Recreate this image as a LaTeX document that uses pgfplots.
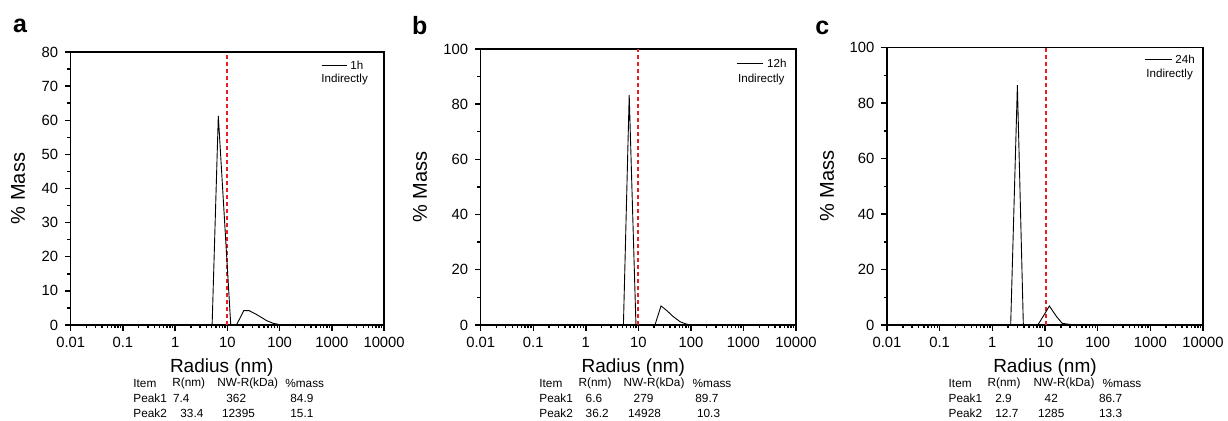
\documentclass[border=0pt]{standalone}
\usepackage{pgfplots}
\pgfplotsset{compat=1.18}
\usepackage{fontspec}
\setmainfont{Liberation Sans}

\pgfkeys{/pgf/number format/assume math mode=true}
\definecolor{cutred}{RGB}{235,30,30}
\pgfplotsset{
  every axis/.append style={
    scale only axis,
    anchor=south west,
    xmin=0.01, xmax=10000,
    xtick={0.01,0.1,1,10,100,1000,10000},
    xticklabels={0.01,0.1,1,10,100,1000,10000},
    minor xtick={0.02,0.03,0.04,0.05,0.06,0.07,0.08,0.09,
                 0.2,0.3,0.4,0.5,0.6,0.7,0.8,0.9,
                 2,3,4,5,6,7,8,9,
                 20,30,40,50,60,70,80,90,
                 200,300,400,500,600,700,800,900,
                 2000,3000,4000,5000,6000,7000,8000,9000},
    ymin=0,
    axis line style={line width=0.65pt},
    tick label style={font=\fontsize{7.4}{8}\selectfont},
    xlabel style={font=\fontsize{9.5}{11}\selectfont},
    ylabel style={font=\fontsize{10}{11}\selectfont},
    xlabel={Radius (nm)}, ylabel={\% Mass},
    clip=false,
  },
  every tick/.append style={black, line width=0.7pt},
}
\tikzset{
  dlscurve/.style={black, line width=0.45pt},
  dlscut/.style={draw=cutred, line width=0.9pt, dash pattern=on 2.2pt off 1.3pt},
}
\newcommand{\tabfont}{\fontsize{5.9}{7}\selectfont}
\newcommand{\legfont}{\fontsize{5.8}{7}\selectfont}

\begin{document}
\begin{tikzpicture}
\useasboundingbox (0,0) rectangle (614pt,210.5pt);

% panel a
\begin{axis}[xmode=log, at={(35.35pt,48pt)}, width=156.7pt, height=136.5pt,
  tick align=outside, xtick pos=bottom, ytick pos=left,
  major tick length=2.8pt, minor tick length=1.7pt,
  ymax=80, ytick={0,10,...,80}, minor ytick={5,15,...,75},
  xlabel style={at={(axis description cs:0.482,-0.157)}, anchor=center},
  ylabel style={at={(axis description cs:-0.168,0.5)}, anchor=center}]
  \addplot[dlscut, no marks] coordinates {(10,0) (10,80)};
  \addplot[dlscurve, no marks] coordinates {(0.01,0) (5.1,0) (6.7,61.3) (11.6,0) (14.9,0)
    (20.6,4.2) (26,4.2) (34,3.3) (45,2.2) (56,1.3) (75,0.5) (100,0.1) (10000,0)};
\end{axis}

% panel b
\begin{axis}[xmode=log, at={(240.35pt,48pt)}, width=157.65pt, height=138pt,
  tick align=outside, xtick pos=bottom, ytick pos=left,
  major tick length=2.8pt, minor tick length=1.7pt,
  ymax=100, ytick={0,20,...,100}, minor ytick={10,30,...,90},
  xlabel style={at={(axis description cs:0.484,-0.156)}, anchor=center},
  ylabel style={at={(axis description cs:-0.1925,0.5)}, anchor=center}]
  \addplot[dlscut, no marks] coordinates {(10,0) (10,100)};
  \addplot[dlscurve, no marks] coordinates {(0.01,0) (5.2,0) (6.7,83.3) (9.0,0) (20.7,0)
    (27,6.9) (35,5.2) (45,3.2) (62,1.2) (80,0.4) (100,0) (10000,0)};
\end{axis}

% panel c
\begin{axis}[xmode=log, at={(443.5pt,48pt)}, width=158pt, height=138.65pt,
  tick align=outside, xtick pos=bottom, ytick pos=left,
  major tick length=2.8pt, minor tick length=1.7pt,
  ymax=100, ytick={0,20,...,100}, minor ytick={10,30,...,90},
  xlabel style={at={(axis description cs:0.5,-0.155)}, anchor=center},
  ylabel style={at={(axis description cs:-0.19,0.5)}, anchor=center}]
  \addplot[dlscut, no marks] coordinates {(10.3,0) (10.3,100)};
  \addplot[dlscurve, no marks] coordinates {(0.01,0) (2.23,0) (2.99,86.5) (3.88,0) (7.3,0)
    (9.5,3.5) (12.1,6.85) (16.6,3.0) (21.2,0.6) (30,0.2) (53,0) (10000,0)};
\end{axis}

% panel letters
\node[anchor=base west, inner sep=0, font=\fontsize{12.5}{14}\selectfont\bfseries] at (6.35pt,194pt) {a};
\node[anchor=base west, inner sep=0, font=\fontsize{12.5}{14}\selectfont\bfseries] at (205.85pt,193pt) {b};
\node[anchor=base west, inner sep=0, font=\fontsize{12.5}{14}\selectfont\bfseries] at (407.5pt,193pt) {c};

% legends
\draw[line width=0.45pt] (160.85pt,178pt) -- (173.35pt,178pt);
\node[anchor=west, inner sep=0, font=\legfont] at (175pt,178pt) {1h};
\node[anchor=west, inner sep=0, font=\legfont] at (160.5pt,170.5pt) {Indirectly};
\draw[line width=0.45pt] (368.65pt,178.85pt) -- (381.65pt,178.85pt);
\node[anchor=west, inner sep=0, font=\legfont] at (383.35pt,178.85pt) {12h};
\node[anchor=west, inner sep=0, font=\legfont] at (368.85pt,170.85pt) {Indirectly};
\draw[line width=0.45pt] (572.5pt,180.85pt) -- (585.85pt,180.85pt);
\node[anchor=west, inner sep=0, font=\legfont] at (587.5pt,180.85pt) {24h};
\node[anchor=west, inner sep=0, font=\legfont] at (573pt,173pt) {Indirectly};

% peak tables
\begin{scope}[every node/.style={anchor=west, inner sep=0, font=\tabfont}]
  \node at (66.5pt,18.85pt) {Item};   \node at (86pt,18.85pt) {R(nm)};
  \node at (108.5pt,18.85pt) {NW-R(kDa)}; \node at (142.5pt,18.85pt) {\%mass};
  \node at (66.5pt,11.35pt) {Peak1};  \node at (86.35pt,11.35pt) {7.4};
  \node at (113pt,11.35pt) {362};     \node at (145pt,11.35pt) {84.9};
  \node at (66.5pt,3.85pt) {Peak2};   \node at (90pt,3.85pt) {33.4};
  \node at (110.85pt,3.85pt) {12395}; \node at (145pt,3.85pt) {15.1};

  \node at (269.5pt,18.85pt) {Item};   \node at (289.15pt,18.85pt) {R(nm)};
  \node at (311.65pt,18.85pt) {NW-R(kDa)}; \node at (346.15pt,18.85pt) {\%mass};
  \node at (269.5pt,11.35pt) {Peak1};  \node at (292.65pt,11.35pt) {6.6};
  \node at (316.65pt,11.35pt) {279};   \node at (347.5pt,11.35pt) {89.7};
  \node at (269.5pt,3.85pt) {Peak2};   \node at (292.65pt,3.85pt) {36.2};
  \node at (313.85pt,3.85pt) {14928};  \node at (348.35pt,3.85pt) {10.3};

  \node at (474.15pt,18.85pt) {Item};   \node at (493.65pt,18.85pt) {R(nm)};
  \node at (516.65pt,18.85pt) {NW-R(kDa)}; \node at (551.15pt,18.85pt) {\%mass};
  \node at (474.15pt,11.35pt) {Peak1};  \node at (497.5pt,11.35pt) {2.9};
  \node at (522.15pt,11.35pt) {42};     \node at (549.35pt,11.35pt) {86.7};
  \node at (474.15pt,3.85pt) {Peak2};   \node at (497.5pt,3.85pt) {12.7};
  \node at (518.85pt,3.85pt) {1285};    \node at (549.35pt,3.85pt) {13.3};
\end{scope}
\end{tikzpicture}
\end{document}
